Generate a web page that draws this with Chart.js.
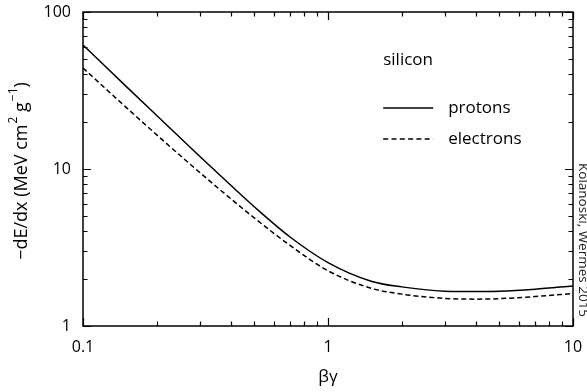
<!DOCTYPE html>
<html>
<head>
<meta charset="utf-8">
<script src="https://cdn.jsdelivr.net/npm/chart.js@4/dist/chart.umd.min.js"></script>
<style>
  html, body { margin: 0; padding: 0; background: #fff; }
  #wrap { width: 587px; height: 392px; position: relative; }
</style>
</head>
<body>
<div id="wrap"><canvas id="c" width="587" height="392"></canvas></div>
<script>
// ---- data ----
const betaGamma = [0.1, 0.15, 0.2, 0.3, 0.4, 0.5, 0.7, 1, 1.5, 2, 3, 4, 5, 7, 10];
const protons   = [61.6, 33.6, 21.9, 12.0, 7.90, 5.75, 3.69, 2.535, 1.93, 1.775, 1.667, 1.656, 1.663, 1.714, 1.80];
const electrons = [44.0, 24.7, 16.5, 9.48, 6.49, 4.88, 3.26, 2.25, 1.738, 1.596, 1.50, 1.483, 1.493, 1.54, 1.61];
const xTickLabels = [0.1, 1, 10];
const yTickLabels = [1, 10, 100];
const xMinorTicks = [0.2,0.3,0.4,0.5,0.6,0.7,0.8,0.9,2,3,4,5,6,7,8,9];
const yMinorTicks = [2,3,4,5,6,7,8,9,20,30,40,50,60,70,80,90];
const seriesNames = ['protons', 'electrons'];
const materialLabel = 'silicon';
const xTitle = 'βγ';
const creditText = 'Kolanoski, Wermes 2015';

const FONT = '"Open Sans", "Noto Sans", sans-serif';

const decor = {
  id: 'decor',
  afterDatasetsDraw(chart) {
    const ctx = chart.ctx;
    const a = chart.chartArea;
    const xs = chart.scales.x, ys = chart.scales.y;
    ctx.save();
    ctx.strokeStyle = '#000';
    ctx.lineWidth = 1.5;
    // frame
    ctx.strokeRect(a.left, a.top, a.right - a.left, a.bottom - a.top);
    // inward ticks
    ctx.lineWidth = 1.2;
    const majL = 8, minL = 4.5;
    function vtick(v, len) {
      const px = Math.round(xs.getPixelForValue(v)) + 0.5;
      ctx.beginPath();
      ctx.moveTo(px, a.bottom); ctx.lineTo(px, a.bottom - len);
      ctx.moveTo(px, a.top); ctx.lineTo(px, a.top + len);
      ctx.stroke();
    }
    function htick(v, len) {
      const py = Math.round(ys.getPixelForValue(v)) + 0.5;
      ctx.beginPath();
      ctx.moveTo(a.left, py); ctx.lineTo(a.left + len, py);
      ctx.moveTo(a.right, py); ctx.lineTo(a.right - len, py);
      ctx.stroke();
    }
    xTickLabels.forEach(v => vtick(v, majL));
    xMinorTicks.forEach(v => vtick(v, minL));
    yTickLabels.forEach(v => htick(v, majL));
    yMinorTicks.forEach(v => htick(v, minL));

    // tick labels
    ctx.fillStyle = '#000';
    ctx.font = '16px ' + FONT;
    ctx.textBaseline = 'middle';
    ctx.textAlign = 'center';
    xTickLabels.forEach(v => ctx.fillText(String(v), xs.getPixelForValue(v), a.bottom + 21));
    ctx.textAlign = 'right';
    yTickLabels.forEach(v => ctx.fillText(String(v), a.left - 12, ys.getPixelForValue(v)));

    // legend / annotation inside plot
    ctx.textAlign = 'left';
    ctx.font = '17px ' + FONT;
    const lx = xs.getPixelForValue(1.68);
    ctx.fillText(materialLabel, lx, 60);
    ctx.lineWidth = 1.5;
    ctx.beginPath(); ctx.moveTo(lx, 108); ctx.lineTo(lx + 50, 108); ctx.stroke();
    ctx.fillText(seriesNames[0], lx + 65, 108);
    ctx.setLineDash([5, 3.3]);
    ctx.beginPath(); ctx.moveTo(lx, 139); ctx.lineTo(lx + 50, 139); ctx.stroke();
    ctx.setLineDash([]);
    ctx.fillText(seriesNames[1], lx + 65, 139);

    // x title
    ctx.textAlign = 'center';
    ctx.font = '17px ' + FONT;
    ctx.fillText(xTitle, (a.left + a.right) / 2, 377);

    // y title with superscripts
    ctx.save();
    ctx.translate(22, (a.top + a.bottom) / 2 + 2);
    ctx.rotate(-Math.PI / 2);
    const parts = [
      ['\u2212dE/dx (MeV cm', 0],
      ['2', 1],
      [' g', 0],
      ['\u22121', 1],
      [')', 0]
    ];
    const big = '18px ' + FONT, small = '12px ' + FONT;
    let total = 0;
    parts.forEach(p => { ctx.font = p[1] ? small : big; total += ctx.measureText(p[0]).width + (p[1] ? 1 : 0); });
    let cx = -total / 2;
    ctx.textAlign = 'left';
    parts.forEach(p => {
      ctx.font = p[1] ? small : big;
      ctx.fillText(p[0], cx + (p[1] ? 1 : 0), p[1] ? -8 : 0);
      cx += ctx.measureText(p[0]).width + (p[1] ? 1 : 0);
    });
    ctx.restore();

    // credit, rotated clockwise
    ctx.save();
    ctx.translate(583, 163);
    ctx.rotate(Math.PI / 2);
    ctx.textAlign = 'left';
    ctx.font = '13.5px ' + FONT;
    ctx.fillStyle = '#222';
    ctx.fillText(creditText, 0, 0);
    ctx.restore();

    ctx.restore();
  }
};

new Chart(document.getElementById('c'), {
  type: 'line',
  data: {
    labels: betaGamma,
    datasets: [
      { label: seriesNames[0], data: betaGamma.map((x, i) => ({x, y: protons[i]})),
        borderColor: '#000', borderWidth: 1.5, pointRadius: 0, fill: false,
        cubicInterpolationMode: 'monotone' },
      { label: seriesNames[1], data: betaGamma.map((x, i) => ({x, y: electrons[i]})),
        borderColor: '#000', borderWidth: 1.5, borderDash: [5, 3], pointRadius: 0, fill: false,
        cubicInterpolationMode: 'monotone' }
    ]
  },
  options: {
    responsive: false,
    animation: false,
    devicePixelRatio: 1,
    layout: { padding: { left: 0, right: 14, top: 12, bottom: 0 } },
    plugins: { legend: { display: false }, tooltip: { enabled: false } },
    scales: {
      x: {
        type: 'logarithmic', min: 0.1, max: 10,
        grid: { display: false, drawTicks: false },
        border: { display: false },
        ticks: { display: false },
        afterFit(s) { s.height = 66; }
      },
      y: {
        type: 'logarithmic', min: 1, max: 100,
        grid: { display: false, drawTicks: false },
        border: { display: false },
        ticks: { display: false },
        afterFit(s) { s.width = 83; }
      }
    }
  },
  plugins: [decor]
});
</script>
</body>
</html>
